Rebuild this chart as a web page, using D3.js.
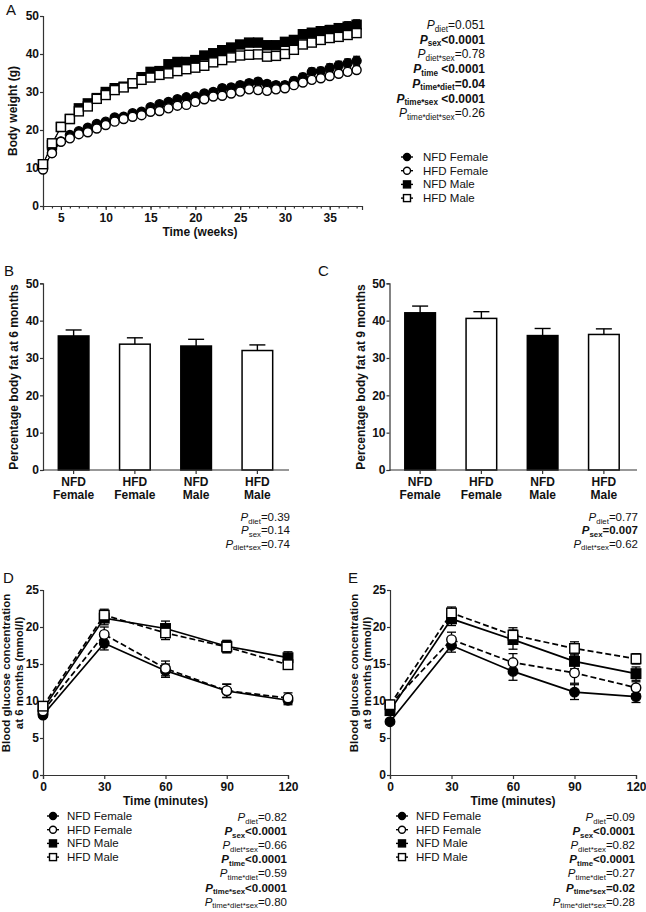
<!DOCTYPE html>
<html><head><meta charset="utf-8">
<script src="https://cdn.jsdelivr.net/npm/d3@7"></script>
<style>
body{margin:0;background:#fff;}
svg{font-family:"Liberation Sans",Arial,sans-serif;}
.tick text{font-weight:bold;font-size:12px;fill:#111;}
.domain,.tick line{stroke:#333;stroke-width:1.2;}
</style></head>
<body>
<svg id="c" width="646" height="912"></svg>
<script>
// ---------- DATA ----------
const weeks = [3,4,5,6,7,8,9,10,11,12,13,14,15,16,17,18,19,20,21,22,23,24,25,26,27,28,29,30,31,32,33,34,35,36,37,38];
const bwNfdFemale = [10,14,17,18.7,19.7,20.6,21.6,22.2,23.3,23.5,24.4,24.8,26,26.8,27.4,28.1,28.6,28.8,29.6,30,31,31.2,31.8,32.3,32.7,32.1,31.8,31.8,32.9,33.9,35.3,35.5,36.3,37,37.6,38.2];
const bwHfdFemale = [9.6,13.9,16.9,17.8,18.9,19.4,20.4,21.3,22.2,22.9,23.5,23.9,24.8,25,25.7,26.4,26.6,27.4,28.1,28.8,29,29.6,30.1,30.7,30.5,30.3,30.7,31,31.8,32.5,33.2,33.6,34.2,34.8,35.3,35.8];
const bwNfdMale = [11,16,20.8,22.9,25.7,27,28.4,30,31,31.4,32.3,33.9,35.3,35.5,37.3,37.9,37.9,38.4,39.6,40.2,41,41.7,42.5,43,43,42.3,42.3,43.2,43.7,45.2,45.6,46,46.3,46.8,47.2,47.7];
const bwHfdMale = [11,16.5,20.8,22.9,24.9,26.2,28.2,29.2,30.5,31.2,32.3,33.2,33.8,34.5,34.9,35.5,36,36.4,36.9,37.8,38.4,39.1,39.6,39.8,39.9,39.3,39.5,40,41.1,42.5,43,43.7,44.2,44.5,45,45.5];
const bwErrFemale = [0.3,0.4,0.4,0.4,0.5,0.5,0.5,0.5,0.5,0.5,0.5,0.6,0.6,0.6,0.6,0.7,0.7,0.7,0.7,0.8,0.8,0.8,0.8,0.9,0.9,0.9,0.9,0.9,1,1,1,1,1.1,1.1,1.1,1.2];
const bwErrMale = [0.3,0.4,0.4,0.5,0.5,0.5,0.6,0.6,0.6,0.6,0.7,0.7,0.7,0.7,0.8,0.8,0.8,0.8,0.9,0.9,0.9,0.9,1,1,1,1,1,1,1.1,1.1,1.1,1.2,1.2,1.2,1.3,1.3];

const groups = ["NFD Female","HFD Female","NFD Male","HFD Male"];
const groupLine1 = ["NFD","HFD","NFD","HFD"];
const groupLine2 = ["Female","Female","Male","Male"];
const fat6 = [35.9,33.7,33.2,32.0];
const fat6Err = [1.6,1.7,1.8,1.5];
const fat9 = [42.1,40.6,36.0,36.3];
const fat9Err = [1.8,1.8,1.9,1.5];

const gttTimes = [0,30,60,90,120];
const gtt6NfdFemale = [8.1,17.8,14.1,11.35,10.1];
const gtt6HfdFemale = [8.65,19.0,14.4,11.4,10.4];
const gtt6NfdMale = [8.9,21.2,19.8,17.4,15.85];
const gtt6HfdMale = [9.3,21.6,19.2,17.3,14.9];
const gtt6ErrNfdFemale = [0.3,0.9,0.9,0.9,0.6];
const gtt6ErrHfdFemale = [0.3,1.0,1.0,0.9,0.7];
const gtt6ErrNfdMale = [0.3,0.9,1.0,0.8,0.8];
const gtt6ErrHfdMale = [0.3,0.8,0.9,0.8,0.6];

const gtt9NfdFemale = [7.2,17.5,14.0,11.2,10.6];
const gtt9HfdFemale = [9.5,18.3,15.2,13.8,11.8];
const gtt9NfdMale = [8.7,21.1,18.3,15.35,13.7];
const gtt9HfdMale = [9.5,21.9,18.9,17.1,15.7];
const gtt9ErrNfdFemale = [0.3,0.9,1.2,1.0,0.8];
const gtt9ErrHfdFemale = [0.4,1.0,1.2,1.4,0.8];
const gtt9ErrNfdMale = [0.4,0.9,1.3,1.0,0.9];
const gtt9ErrHfdMale = [0.4,0.8,1.0,0.9,0.7];

const yTicksA = [0,10,20,30,40,50];
const xTicksA = [5,10,15,20,25,30,35];
const yTicksFat = [0,10,20,30,40,50];
const yTicksGtt = [0,5,10,15,20,25];

const statsA = [["diet","=0.051",false],["sex","<0.0001",true],["diet*sex","=0.78",false],["time"," <0.0001",true],["time*diet","=0.04",true],["time*sex"," <0.0001",true],["time*diet*sex","=0.26",false]];
const statsB = [["diet","=0.39",false],["sex","=0.14",false],["diet*sex","=0.74",false]];
const statsC = [["diet","=0.77",false],["sex","=0.007",true],["diet*sex","=0.62",false]];
const statsD = [["diet","=0.82",false],["sex","<0.0001",true],["diet*sex","=0.66",false],["time","<0.0001",true],["time*diet","=0.59",false],["time*sex","<0.0001",true],["time*diet*sex","=0.80",false]];
const statsE = [["diet","=0.09",false],["sex","<0.0001",true],["diet*sex","=0.82",false],["time","<0.0001",true],["time*diet","=0.27",false],["time*sex","=0.02",true],["time*diet*sex","=0.28",false]];

const styles = [
  {fill:"#000", shape:"circle", dash:null},
  {fill:"#fff", shape:"circle", dash:"6,3"},
  {fill:"#000", shape:"square", dash:null},
  {fill:"#fff", shape:"square", dash:"6,3"}
];

const svg = d3.select("#c");

function marker(g, x, y, st, size){
  if(st.shape==="circle"){
    g.append("circle").attr("cx",x).attr("cy",y).attr("r",size/2)
      .attr("fill",st.fill).attr("stroke","#000").attr("stroke-width",1.4);
  } else {
    g.append("rect").attr("x",x-size/2).attr("y",y-size/2).attr("width",size).attr("height",size)
      .attr("fill",st.fill).attr("stroke","#000").attr("stroke-width",1.4);
  }
}

function statBlock(xr, y0, dy, rows, fs){
  rows.forEach((r,i)=>{
    const t = svg.append("text").attr("x",xr).attr("y",y0+i*dy).attr("text-anchor","end")
      .attr("font-size",fs).attr("fill","#111").attr("font-weight",r[2]?"bold":"normal");
    t.append("tspan").text("P").attr("font-style","italic");
    t.append("tspan").text(r[0]).attr("font-size",fs*0.68).attr("dy",2.5);
    t.append("tspan").text(r[1]).attr("dy",-2.5);
  });
}

function legend(x, y0, dy, fs, msize, lw, tx){
  groups.forEach((gname,i)=>{
    const g = svg.append("g");
    const y = y0+i*dy;
    g.append("line").attr("x1",x-lw).attr("x2",x+lw).attr("y1",y).attr("y2",y).attr("stroke","#000").attr("stroke-width",1.4);
    marker(g,x,y,styles[i],msize);
    svg.append("text").attr("x",x+tx).attr("y",y+4).attr("font-size",fs).attr("fill","#111").text(gname);
  });
}

function panelLabel(t,x,y){
  svg.append("text").attr("x",x).attr("y",y).attr("font-size",15).attr("fill","#111").text(t);
}

function yTitle(lines, x, yc, gap, fs){
  lines.forEach((l,i)=>{
    svg.append("text").attr("transform",`translate(${x+i*gap},${yc}) rotate(-90)`)
      .attr("text-anchor","middle").attr("font-size",fs||12).attr("font-weight","bold").attr("fill","#111").text(l);
  });
}

// ---------- PANEL A ----------
{
  const x = d3.scaleLinear().domain([3,38.6]).range([43,362]);
  const y = d3.scaleLinear().domain([0,50]).range([206,16]);
  const g = svg.append("g");
  g.append("g").attr("transform","translate(0,206)")
    .call(d3.axisBottom(x).tickValues(xTicksA).tickSize(4).tickPadding(3).tickFormat(d3.format("d")));
  g.append("g").attr("transform","translate(0,206)")
    .call(d3.axisBottom(x).tickValues(weeks).tickSize(2.5).tickFormat(""))
    .call(s=>s.select(".domain").remove());
  g.append("g").attr("transform","translate(43,0)")
    .call(d3.axisLeft(y).tickValues(yTicksA).tickSize(3).tickPadding(1));
  const series = [
    [bwNfdFemale,bwErrFemale,0],[bwNfdMale,bwErrMale,2],[bwHfdFemale,bwErrFemale,1],[bwHfdMale,bwErrMale,3]
  ];
  series.forEach(([vals,errs,si])=>{
    const line = d3.line().x((d,i)=>x(weeks[i])).y(d=>y(d));
    g.append("path").attr("d",line(vals)).attr("fill","none").attr("stroke","#000").attr("stroke-width",1);
  });
  series.forEach(([vals,errs,si])=>{
    vals.forEach((v,i)=>{
      const xx=x(weeks[i]);
      g.append("line").attr("x1",xx).attr("x2",xx).attr("y1",y(v)).attr("y2",y(v+errs[i])).attr("stroke","#000").attr("stroke-width",1.2);
      g.append("line").attr("x1",xx-3.5).attr("x2",xx+3.5).attr("y1",y(v+errs[i])).attr("y2",y(v+errs[i])).attr("stroke","#000").attr("stroke-width",1.2);
    });
  });
  series.forEach(([vals,errs,si])=>{
    vals.forEach((v,i)=>marker(g,x(weeks[i]),y(v),styles[si],9));
  });
  yTitle(["Body weight (g)"],17,111,0);
  svg.append("text").attr("x",200).attr("y",236).attr("text-anchor","middle").attr("font-size",12).attr("font-weight","bold").attr("fill","#111").text("Time (weeks)");
  panelLabel("A",6,15);
  statBlock(485,29,14.7,statsA,12);
  legend(407,157,13.7,11.5,7,6,16);
}

// ---------- BAR PANELS ----------
function barPanel(x0,x1,axisEnd,vals,errs,title,stats,label,lx,ylx){
  const x = d3.scaleBand().domain(groups).range([x0,x1]).paddingInner(0.5).paddingOuter(0.25);
  const y = d3.scaleLinear().domain([0,50]).range([470,283.3]);
  const g = svg.append("g");
  vals.forEach((v,i)=>{
    const bx=x(groups[i]), cx=bx+x.bandwidth()/2;
    g.append("line").attr("x1",cx).attr("x2",cx).attr("y1",y(v)).attr("y2",y(v+errs[i])).attr("stroke","#000").attr("stroke-width",1.4);
    g.append("line").attr("x1",cx-8).attr("x2",cx+8).attr("y1",y(v+errs[i])).attr("y2",y(v+errs[i])).attr("stroke","#000").attr("stroke-width",1.4);
    g.append("rect").attr("x",bx).attr("y",y(v)).attr("width",x.bandwidth()).attr("height",y(0)-y(v))
      .attr("fill",styles[i].fill).attr("stroke","#000").attr("stroke-width",1.5);
  });
  const ax = g.append("g").attr("transform","translate(0,470)").call(d3.axisBottom(x).tickSize(4).tickFormat(""));
  ax.select(".domain").attr("d",`M${x0},0H${axisEnd}`);
  groups.forEach((gr,i)=>{
    const cx=x(gr)+x.bandwidth()/2;
    g.append("text").attr("x",cx).attr("y",486).attr("text-anchor","middle").attr("font-size",12).attr("font-weight","bold").attr("fill","#111").text(groupLine1[i]);
    g.append("text").attr("x",cx).attr("y",499).attr("text-anchor","middle").attr("font-size",12).attr("font-weight","bold").attr("fill","#111").text(groupLine2[i]);
  });
  g.append("g").attr("transform",`translate(${x0},0)`).call(d3.axisLeft(y).tickValues(yTicksFat).tickSize(3).tickPadding(1));
  yTitle([title],ylx,377,0);
  panelLabel(label,lx,276);
  statBlock(axisEnd+1,521,13.3,stats,11.5);
}
barPanel(43,288,289,fat6,fat6Err,"Percentage body fat at 6 months",statsB,"B",4,18);
barPanel(389.5,634.5,637,fat9,fat9Err,"Percentage body fat at 9 months",statsC,"C",318,365);

// ---------- GTT PANELS ----------
function gttPanel(x0,x1,data,errs,ylabel2,stats,label,lx,ylx,legX){
  const x = d3.scaleLinear().domain([0,120]).range([x0,x1]);
  const y = d3.scaleLinear().domain([0,25]).range([775,590]);
  const g = svg.append("g");
  g.append("g").attr("transform","translate(0,775)").call(d3.axisBottom(x).tickValues(gttTimes).tickSize(4).tickPadding(3));
  g.append("g").attr("transform",`translate(${x0},0)`).call(d3.axisLeft(y).tickValues(yTicksGtt).tickSize(3).tickPadding(1));
  const order=[0,2,1,3];
  order.forEach(si=>{
    const line = d3.line().x((d,i)=>x(gttTimes[i])).y(d=>y(d));
    g.append("path").attr("d",line(data[si])).attr("fill","none").attr("stroke","#000").attr("stroke-width",1.7)
      .attr("stroke-dasharray",styles[si].dash);
  });
  order.forEach(si=>{
    data[si].forEach((v,i)=>{
      const xx=x(gttTimes[i]), e=errs[si][i];
      g.append("line").attr("x1",xx).attr("x2",xx).attr("y1",y(v-e)).attr("y2",y(v+e)).attr("stroke","#000").attr("stroke-width",1.3);
      [v-e,v+e].forEach(t=>g.append("line").attr("x1",xx-4.5).attr("x2",xx+4.5).attr("y1",y(t)).attr("y2",y(t)).attr("stroke","#000").attr("stroke-width",1.3));
    });
  });
  order.forEach(si=>{
    data[si].forEach((v,i)=>marker(g,x(gttTimes[i]),y(v),styles[si],9.5));
  });
  yTitle(["Blood glucose concentration",ylabel2],ylx,673,13,11.5);
  svg.append("text").attr("x",(x0+x1)/2).attr("y",805).attr("text-anchor","middle").attr("font-size",12).attr("font-weight","bold").attr("fill","#111").text("Time (minutes)");
  panelLabel(label,lx,583);
  statBlock(x1-1,821,14.1,stats,11.5);
  legend(legX,816,13.7,11.5,7,6,14);
}
gttPanel(43,288,[gtt6NfdFemale,gtt6HfdFemale,gtt6NfdMale,gtt6HfdMale],[gtt6ErrNfdFemale,gtt6ErrHfdFemale,gtt6ErrNfdMale,gtt6ErrHfdMale],"at 6 months (mmol/l)",statsD,"D",3,10,53);
gttPanel(390,636,[gtt9NfdFemale,gtt9HfdFemale,gtt9NfdMale,gtt9HfdMale],[gtt9ErrNfdFemale,gtt9ErrHfdFemale,gtt9ErrNfdMale,gtt9ErrHfdMale],"at 9 months (mmol/l)",statsE,"E",348,358,402);
</script>
</body></html>
